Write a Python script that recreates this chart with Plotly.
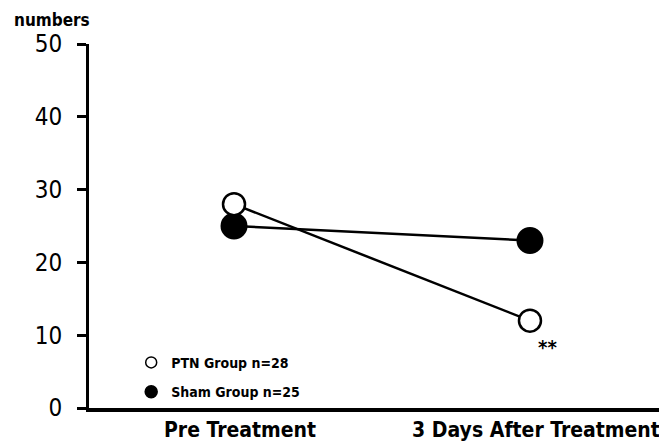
import plotly.graph_objects as go

categories = ["Pre Treatment", "3 Days After Treatment"]
ptn_values = [28, 12]
sham_values = [25, 23]
ptn_label = "PTN Group n=28"
sham_label = "Sham Group n=25"
y_ticks = [0, 10, 20, 30, 40, 50]

FONT = "DejaVu Sans Condensed, Liberation Sans Narrow, Arial Narrow, Liberation Sans, sans-serif"
xs = list(range(len(categories)))

fig = go.Figure()
fig.add_trace(go.Scatter(x=xs, y=sham_values, mode="lines+markers", showlegend=False,
                         line=dict(color="black", width=2.5),
                         marker=dict(size=25, color="black", line=dict(color="black", width=2))))
fig.add_trace(go.Scatter(x=xs, y=ptn_values, mode="lines+markers", showlegend=False,
                         line=dict(color="black", width=2.5),
                         marker=dict(size=22, color="white", line=dict(color="black", width=2.5))))
# legend entries
fig.add_trace(go.Scatter(x=[None], y=[None], mode="markers", name=ptn_label, legendgroup="a",
                         marker=dict(size=11, color="white", line=dict(color="black", width=1.5))))
fig.add_trace(go.Scatter(x=[None], y=[None], mode="markers", name=sham_label, legendgroup="b",
                         marker=dict(size=12, color="black", line=dict(color="black", width=1.5))))

fig.add_annotation(x=xs[1] + 0.06, y=ptn_values[1] - 3.6, text="<b>**</b>", showarrow=False,
                   font=dict(size=20, color="black", family=FONT))
fig.add_annotation(x=-0.133, y=1.066, xref="paper", yref="paper", xanchor="left", yanchor="middle",
                   text="<b>numbers</b>", showarrow=False, font=dict(size=17, color="black", family=FONT))

fig.update_layout(
    width=659, height=436,
    margin=dict(l=81, r=0, t=36, b=36),
    paper_bgcolor="white", plot_bgcolor="white",
    font=dict(family=FONT, color="black"),
    legend=dict(x=0.073, y=0.168, xanchor="left", yanchor="top", bgcolor="rgba(0,0,0,0)",
                font=dict(size=14, family=FONT, color="black", weight="bold"),
                itemsizing="trace", tracegroupgap=8),
    xaxis=dict(range=[-0.49, 1.463], tickvals=xs, ticktext=[f"<b>{c}</b>" for c in categories],
               showgrid=False, zeroline=False, showline=True, linecolor="black", linewidth=4,
               ticks="", automargin=False, ticklabelshift=6,
               tickfont=dict(size=21, family=FONT, color="black")),
    yaxis=dict(range=[0, 50], tickvals=y_ticks, showgrid=False, zeroline=False,
               showline=True, linecolor="black", linewidth=3, ticks="outside", ticklen=9,
               tickwidth=2.5, tickcolor="black", automargin=False, ticklabelstandoff=10,
               tickfont=dict(size=24, family=FONT, color="black")),
)

fig.write_html("out.html")
